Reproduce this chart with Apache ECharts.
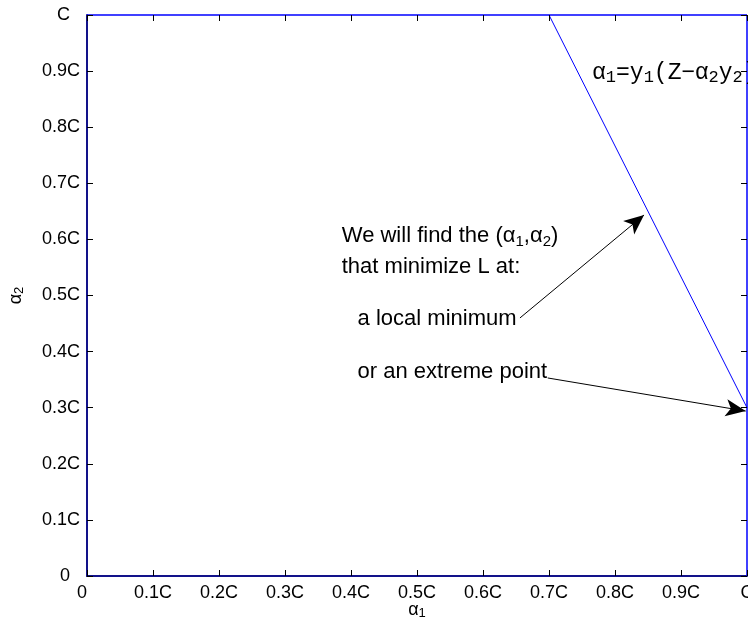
<!DOCTYPE html>
<html>
<head>
<meta charset="utf-8">
<script src="https://cdn.jsdelivr.net/npm/echarts@6/dist/echarts.min.js"></script>
<style>html,body{margin:0;padding:0;background:#fff}#c{width:748px;height:631px}</style>
</head>
<body>
<div id="c"></div>
<script>
// data (fractions of C)
var tickValues = [0, 0.1, 0.2, 0.3, 0.4, 0.5, 0.6, 0.7, 0.8, 0.9, 1];
var tickLabels = ['0', '0.1C', '0.2C', '0.3C', '0.4C', '0.5C', '0.6C', '0.7C', '0.8C', '0.9C', 'C'];
var constraintLine = [[0.7, 1.0], [1.0, 0.3]];
var boxTop = [[0, 1], [1, 1]];
var boxRight = [[1, 0], [1, 1]];
var arrowLocal = [[0.656, 0.460], [0.844, 0.6435]];
var arrowExtreme = [[0.698, 0.353], [0.998, 0.294]];
var textAnchors = {
  line1: [0.386, 0.606],
  line2: [0.386, 0.551],
  line3: [0.410, 0.458],
  line4: [0.410, 0.364],
  formula: [0.766, 0.897]
};

var FONT = 'Liberation Sans, Arial, Helvetica, sans-serif';
var MONO = 'Liberation Mono, Courier New, monospace';
var NAVY = '#12128a';
var fmtY = function (v) { var s = tickLabels[Math.round(v * 10)]; return s.length < 2 ? s + '  ' : s; };
var fmtX = function (v) { var s = tickLabels[Math.round(v * 10)]; return s === '0' ? s + '  ' : s; };
function nameRich() {
  return { rich: {
    a: { fontFamily: FONT, fontSize: 18, color: '#000', lineHeight: 20 },
    s: { fontFamily: FONT, fontSize: 13, color: '#000', lineHeight: 10, verticalAlign: 'bottom' }
  } };
}
// inward tick marks on all four sides (tick length ~6px expressed in axis units)
var TLX = 6 / 660, TLY = 6 / 561;
var tickSegments = [];
tickValues.forEach(function (v) {
  tickSegments.push(
    [{ coord: [v, 0] }, { coord: [v, TLY] }],
    [{ coord: [v, 1] }, { coord: [v, 1 - TLY] }],
    [{ coord: [0, v] }, { coord: [TLX, v] }],
    [{ coord: [1, v] }, { coord: [1 - TLX, v] }]
  );
});

var chart = echarts.init(document.getElementById('c'));
var option = {
  animation: false,
  backgroundColor: '#fff',
  grid: { left: 87, right: 1, top: 15, bottom: 55, containLabel: false, outerBoundsMode: 'none' },
  xAxis: {
    type: 'value', min: 0, max: 1, interval: 0.1,
    axisLine: { show: true, onZero: false, lineStyle: { color: NAVY, width: 2 } },
    axisTick: { show: false },
    splitLine: { show: false },
    axisLabel: { formatter: fmtX, color: '#000', fontFamily: FONT, fontSize: 18, margin: 8 },
    name: '{a|α}{s|1}', nameLocation: 'middle', nameGap: 24, nameMoveOverlap: false,
    nameTextStyle: nameRich()
  },
  yAxis: {
    type: 'value', min: 0, max: 1, interval: 0.1,
    axisLine: { show: true, onZero: false, lineStyle: { color: NAVY, width: 2 } },
    axisTick: { show: false },
    splitLine: { show: false },
    axisLabel: { formatter: fmtY, color: '#000', fontFamily: FONT, fontSize: 18, margin: 7 },
    name: '{a|α}{s|2}', nameLocation: 'middle', nameGap: 61, nameRotate: 90, nameMoveOverlap: false,
    nameTextStyle: nameRich()
  },
  series: [{
    type: 'line', data: boxTop, symbol: 'none', clip: false,
    lineStyle: { color: '#0000ff', width: 1.5 }, z: 3,
    markLine: {
      silent: true, symbol: ['none', 'none'], precision: 6,
      lineStyle: { color: '#000', width: 1, type: 'solid' },
      label: { show: false }, emphasis: { disabled: true },
      data: tickSegments
    }
  }, {
    type: 'line', data: boxRight, symbol: 'none', clip: false,
    lineStyle: { color: '#0000ff', width: 1.5 }, z: 3
  }, {
    type: 'line', data: constraintLine, symbol: 'none',
    lineStyle: { color: '#0000ff', width: 1 }, z: 3,
    markLine: {
      silent: true, symbol: ['none', 'arrow'], symbolSize: [13, 20],
      lineStyle: { color: '#000', width: 1, type: 'solid' },
      label: { show: false },
      data: [
        [{ coord: arrowLocal[0] }, { coord: arrowLocal[1] }],
        [{ coord: arrowExtreme[0] }, { coord: arrowExtreme[1] }]
      ]
    }
  }]
};
chart.setOption(option);

function px(p) { return chart.convertToPixel({ xAxisIndex: 0, yAxisIndex: 0 }, p); }
var subRich = {
  t: { fontFamily: FONT, fontSize: 22, color: '#000', lineHeight: 26 },
  s: { fontFamily: FONT, fontSize: 15, color: '#000', lineHeight: 12, verticalAlign: 'bottom' }
};
var monoRich = {
  t: { fontFamily: MONO, fontSize: 23, color: '#000', lineHeight: 26 },
  g: { fontFamily: FONT, fontSize: 23, color: '#000', lineHeight: 26 },
  s: { fontFamily: MONO, fontSize: 17, color: '#000', lineHeight: 12, verticalAlign: 'bottom' }
};
function txt(anchor, text, rich) {
  var p = px(anchor);
  return { type: 'text', x: p[0], y: p[1], z: 10,
    style: { text: text, rich: rich, fill: '#000', font: '22px ' + FONT, verticalAlign: 'middle', align: 'left' } };
}
chart.setOption({ graphic: [
  txt(textAnchors.line1, '{t|We will find the (α}{s|1}{t|,α}{s|2}{t|)}', subRich),
  txt(textAnchors.line2, '{t|that minimize L at:}', subRich),
  txt(textAnchors.line3, '{t|a local minimum}', subRich),
  txt(textAnchors.line4, '{t|or an extreme point}', subRich),
  txt(textAnchors.formula, '{g|α}{s|1}{t|=y}{s|1}{t|(Z−}{g|α}{s|2}{t|y}{s|2}{t|)}', monoRich)
] });
</script>
</body>
</html>
